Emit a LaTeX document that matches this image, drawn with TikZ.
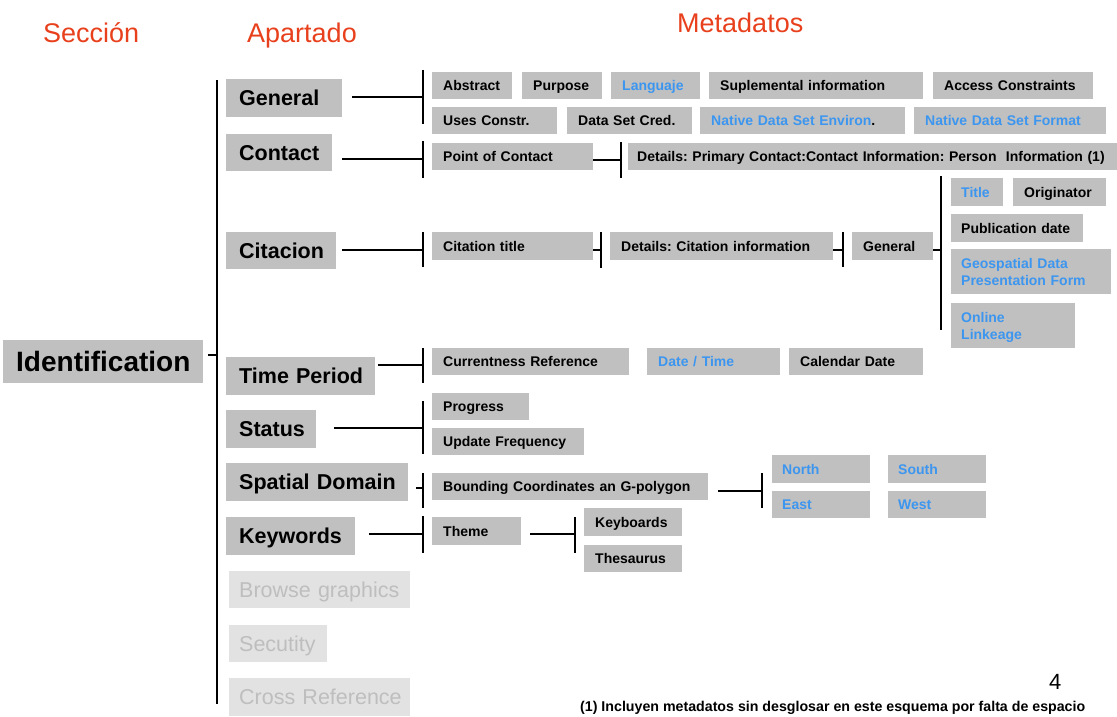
\documentclass[tikz,border=0pt]{standalone}
\usepackage{fontspec}
\setmainfont{Liberation Sans}
\usetikzlibrary{calc}
\frenchspacing

\definecolor{boxgray}{RGB}{192,192,192}
\definecolor{paleFill}{RGB}{226,226,226}
\definecolor{paleText}{RGB}{190,190,190}
\definecolor{linkblue}{RGB}{60,150,240}
\definecolor{headred}{RGB}{232,64,28}

\tikzset{
  cell/.style={fill=boxgray, anchor=north west, inner ysep=0pt, align=left},
  meta/.style={cell, font=\bfseries\fontsize{14}{17}\selectfont, text height=10.5pt, text depth=0pt},
  twoline/.style={text height=22pt, text depth=12pt},
  part/.style={cell, font=\bfseries\fontsize{21.5}{25}\selectfont, text height=15pt, text depth=0pt},
  section/.style={cell, font=\bfseries\fontsize{28}{32}\selectfont, text height=20pt, text depth=0pt},
  pale/.style={part, fill=paleFill, text=paleText, font=\fontsize{21.5}{25}\selectfont},
  link/.style={text=linkblue},
  header/.style={anchor=base west, text=headred, inner sep=0pt, font=\fontsize{27}{32}\selectfont},
  wire/.style={line width=1.3pt, black}
}

% \cellnode[style]{name}{x}{y}{width}{height}{padding}{text}
\newcommand{\cellnode}[8][]{%
  \pgfmathsetmacro{\celltw}{#5-2*#7}%
  \node[#1, inner xsep=#7pt, text width=\celltw pt, minimum height=#6pt] (#2) at (#3,#4) {\mbox{#8}};}

% \bracketbar{name}{x}{top}{bottom}{join y}
\newcommand{\bracketbar}[5]{%
  \coordinate (#1T) at (#2,#3);
  \coordinate (#1B) at (#2,#4);
  \coordinate (#1J) at (#2,#5);
  \draw[wire] (#1T) -- (#1B);}

\begin{document}
\begin{tikzpicture}[x=1pt, y=-1pt]
\useasboundingbox (0,0) rectangle (1117,717);

% column headers
\node[header] (hSec) at (43,43) {Sección};
\node[header] (hApa) at (247,43) {Apartado};
\node[header] (hMeta) at (677,33) {Metadatos};

% section
\cellnode[section]{ident}{3}{340}{200}{43}{13}{Identification}

% sub-sections
\cellnode[part]{gen}{226}{79}{116}{38}{13}{General}
\cellnode[part]{con}{226}{134}{106}{37}{13}{Contact}
\cellnode[part]{cit}{226}{232}{110}{37}{13}{Citacion}
\cellnode[part]{tper}{226}{357}{149}{38}{13}{Time Period}
\cellnode[part]{stat}{226}{410}{90}{38}{13}{Status}
\cellnode[part]{spat}{226}{463}{182}{38}{13}{Spatial Domain}
\cellnode[part]{kw}{226}{517}{129}{38}{13}{Keywords}
\cellnode[pale]{brow}{229}{571}{181}{37}{10}{Browse graphics}
\cellnode[pale]{secu}{229}{625}{98}{37}{10}{Secutity}
\cellnode[pale]{cross}{229}{678}{181}{38}{10}{Cross Reference}

% General
\cellnode[meta]{abs}{432}{72}{80}{27}{11}{Abstract}
\cellnode[meta]{purp}{522}{72}{80}{27}{11}{Purpose}
\cellnode[meta,link]{lang}{611}{72}{89}{27}{11}{Languaje}
\cellnode[meta]{supl}{709}{72}{214}{27}{11}{Suplemental information}
\cellnode[meta]{acc}{933}{72}{160}{27}{11}{Access Constraints}
\cellnode[meta]{uses}{432}{107}{125}{27}{11}{Uses Constr.}
\cellnode[meta]{cred}{567}{107}{125}{27}{11}{Data Set Cred.}
\cellnode[meta]{envi}{700}{107}{205}{27}{11}{\textcolor{linkblue}{Native Data Set Environ}.}
\cellnode[meta,link]{form}{914}{107}{192}{27}{11}{Native Data Set Format}

% Contact
\cellnode[meta]{poc}{432}{143}{161}{27}{11}{Point of Contact}
\cellnode[meta]{pdet}{628}{143}{489}{27}{9}{Details: Primary Contact:Contact Information: Person~~Information (1)}

% Citacion
\cellnode[meta]{ctit}{432}{232}{161}{28}{11}{Citation title}
\cellnode[meta]{cdet}{610}{232}{223}{28}{11}{Details: Citation information}
\cellnode[meta]{cgen}{852}{232}{81}{28}{11}{General}
\cellnode[meta,link]{title}{951}{178}{52}{28}{10}{Title}
\cellnode[meta]{orig}{1013}{178}{93}{28}{11}{Originator}
\cellnode[meta]{pub}{951}{214}{132}{28}{10}{Publication date}
\cellnode[meta,link,twoline]{geo}{951}{249}{160}{45}{10}{\begin{tabular}{@{}l@{}}Geospatial Data\\Presentation Form\end{tabular}}
\cellnode[meta,link,twoline]{online}{951}{303}{124}{45}{10}{\begin{tabular}{@{}l@{}}Online\\Linkeage\end{tabular}}

% Time Period
\cellnode[meta]{curr}{432}{348}{197}{27}{11}{Currentness Reference}
\cellnode[meta,link]{dtime}{647}{348}{133}{27}{11}{Date / Time}
\cellnode[meta]{cal}{789}{348}{134}{27}{11}{Calendar Date}

% Status
\cellnode[meta]{prog}{432}{393}{97}{27}{11}{Progress}
\cellnode[meta]{upd}{432}{428}{152}{27}{11}{Update Frequency}

% Spatial Domain
\cellnode[meta]{bound}{432}{473}{276}{27}{11}{Bounding Coordinates an G-polygon}
\cellnode[meta,link]{north}{772}{455}{98}{28}{10}{North}
\cellnode[meta,link]{south}{888}{455}{98}{28}{10}{South}
\cellnode[meta,link]{east}{772}{491}{98}{27}{10}{East}
\cellnode[meta,link]{west}{888}{491}{98}{27}{10}{West}

% Keywords
\cellnode[meta]{theme}{432}{517}{89}{28}{11}{Theme}
\cellnode[meta]{keyb}{584}{508}{98}{28}{11}{Keyboards}
\cellnode[meta]{thes}{584}{545}{98}{27}{11}{Thesaurus}

% main spine
\coordinate (spineT) at (217,80);
\coordinate (spineB) at (217,704);
\coordinate (spineJ) at (217,355);
\draw[wire] (spineT) -- (spineB);
\draw[wire, shorten >=5pt] (spineJ) -- (spineJ -| ident.east);

% brackets and their feeders
\bracketbar{genbar}{423}{70}{124}{97}
\draw[wire, shorten >=10pt] (genbarJ) -- (genbarJ -| gen.east);
\bracketbar{conbar}{423}{141}{178}{159}
\draw[wire, shorten >=10pt] (conbarJ) -- (conbarJ -| con.east);
\bracketbar{citbar}{423}{232}{267}{250}
\draw[wire, shorten >=6pt] (citbarJ) -- (citbarJ -| cit.east);
\bracketbar{tpbar}{423}{348}{383}{365}
\draw[wire, shorten >=3pt] (tpbarJ) -- (tpbarJ -| tper.east);
\bracketbar{stbar}{423}{401}{454}{428}
\draw[wire, shorten >=18pt] (stbarJ) -- (stbarJ -| stat.east);
\bracketbar{sdbar}{423}{473}{508}{488}
\draw[wire, shorten >=8pt] (sdbarJ) -- (sdbarJ -| spat.east);
\bracketbar{kwbar}{423}{516}{553}{534}
\draw[wire, shorten >=14pt] (kwbarJ) -- (kwbarJ -| kw.east);

\bracketbar{pocbar}{621}{142}{178}{160}
\draw[wire] (pocbarJ) -- (pocbarJ -| poc.east);
\bracketbar{ctbar}{601}{232}{268}{250}
\draw[wire] (ctbarJ) -- (ctbarJ -| ctit.east);
\bracketbar{cdbar}{843}{232}{267}{250}
\draw[wire] (cdbarJ) -- (cdbarJ -| cdet.east);
\bracketbar{cgbar}{941}{176}{330}{250}
\draw[wire] (cgbarJ) -- (cgbarJ -| cgen.east);
\bracketbar{bcbar}{762}{473}{508}{491}
\draw[wire, shorten >=10pt] (bcbarJ) -- (bcbarJ -| bound.east);
\bracketbar{thbar}{575}{517}{553}{534}
\draw[wire, shorten >=9pt] (thbarJ) -- (thbarJ -| theme.east);

% page number and footnote
\node[anchor=base west, inner sep=0pt, font=\fontsize{22}{26}\selectfont] (pageno) at (1049,689) {4};
\node[anchor=base west, inner sep=0pt, font=\bfseries\fontsize{14.2}{17}\selectfont] (note) at (580,711) {(1) Incluyen metadatos sin desglosar en este esquema por falta de espacio};

\end{tikzpicture}
\end{document}
